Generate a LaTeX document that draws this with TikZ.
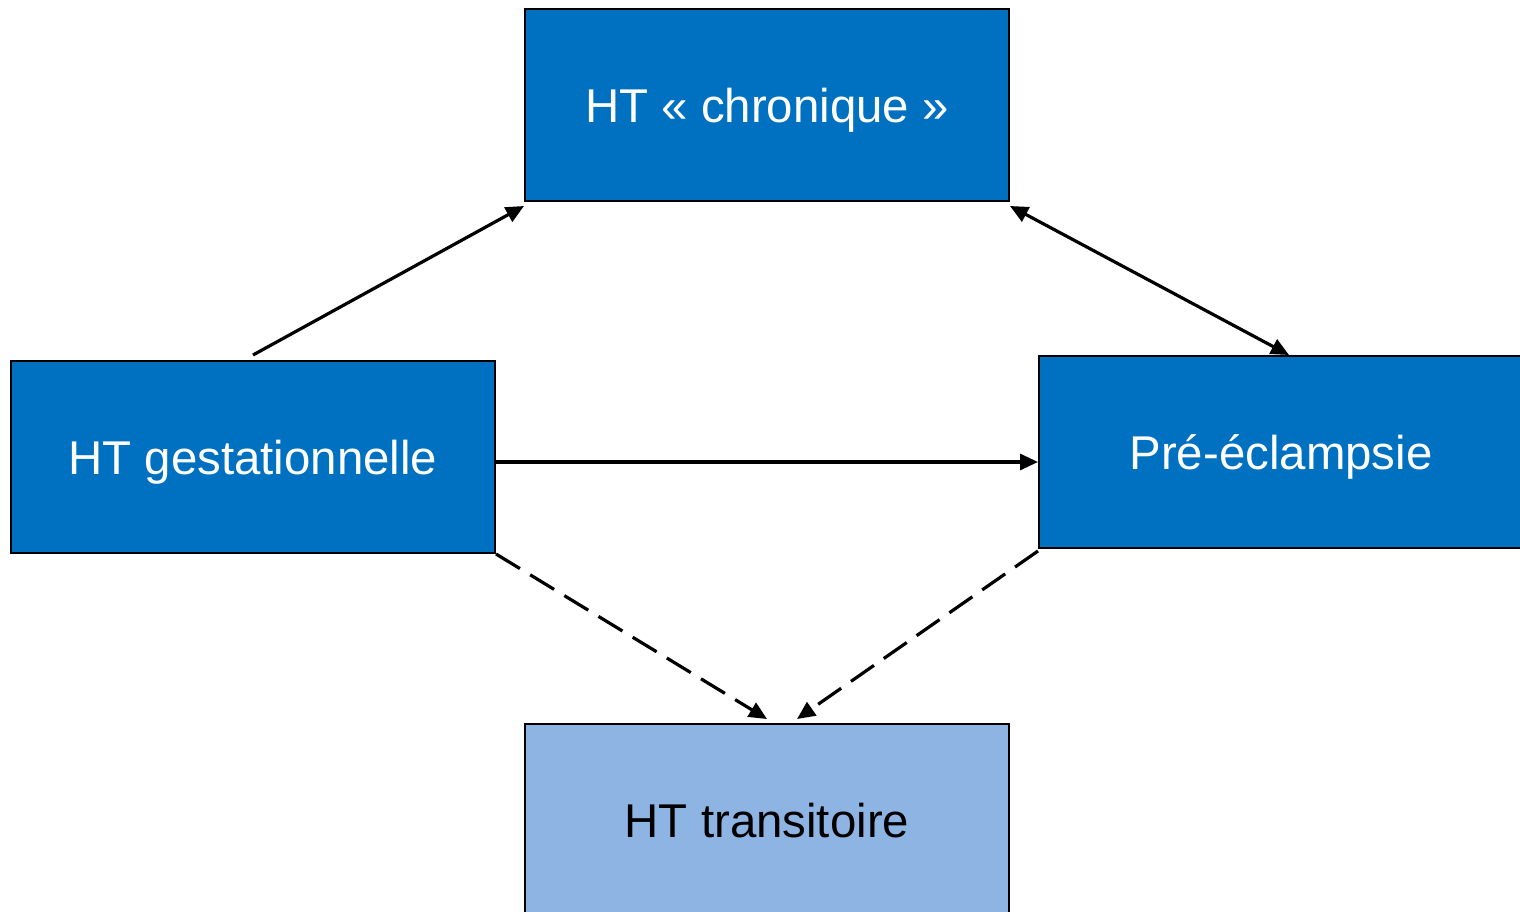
\documentclass[tikz,border=0pt]{standalone}
\usepackage{fontspec}
\setmainfont{Liberation Sans}
\usetikzlibrary{arrows.meta,calc}
\definecolor{dblue}{HTML}{0070C0}
\definecolor{lblue}{HTML}{8EB4E3}
\tikzset{
  box/.style={draw=black, line width=1pt, minimum width=242pt, minimum height=96pt, inner sep=0pt, text height=17pt, text depth=0pt, font=\fontsize{23.7}{28}\selectfont},
  darkbox/.style={box, fill=dblue, text=white},
  lightbox/.style={box, fill=lblue, text=black},
  arr/.style={line width=1.6pt, -{Triangle[length=9pt,width=8pt]}},
  darr/.style={line width=1.6pt, {Triangle[length=9pt,width=8pt]}-{Triangle[length=9pt,width=8pt]}},
  dash arr/.style={arr, dash pattern=on 14pt off 6pt}
}
\begin{document}
\begin{tikzpicture}[x=0.5pt,y=-0.5pt]
\useasboundingbox (0,0) rectangle (1520,911);
\clip (0,0) rectangle (1520,911);
\node[darkbox] (chron) at (767,105) {HT « chronique »};
\node[darkbox] (gest) at (253,457) {HT gestationnelle};
\node[darkbox] (pre) at (1281,452) {Pré-éclampsie};
\node[lightbox] (trans) at (767,820) {HT transitoire};
\draw[arr] ([yshift=2.5pt]gest.north) -- ([yshift=-2pt]chron.south west);
\draw[darr] ([yshift=-2pt]chron.south east) -- ([xshift=4pt]pre.north);
\draw[arr] ([yshift=-2.5pt]gest.east) -- ([yshift=-5pt]pre.west);
\draw[dash arr] (gest.south east) -- ([yshift=2pt]trans.north);
\draw[dash arr] ([yshift=-1pt]pre.south west) -- ([xshift=15pt,yshift=2pt]trans.north);
\end{tikzpicture}
\end{document}
